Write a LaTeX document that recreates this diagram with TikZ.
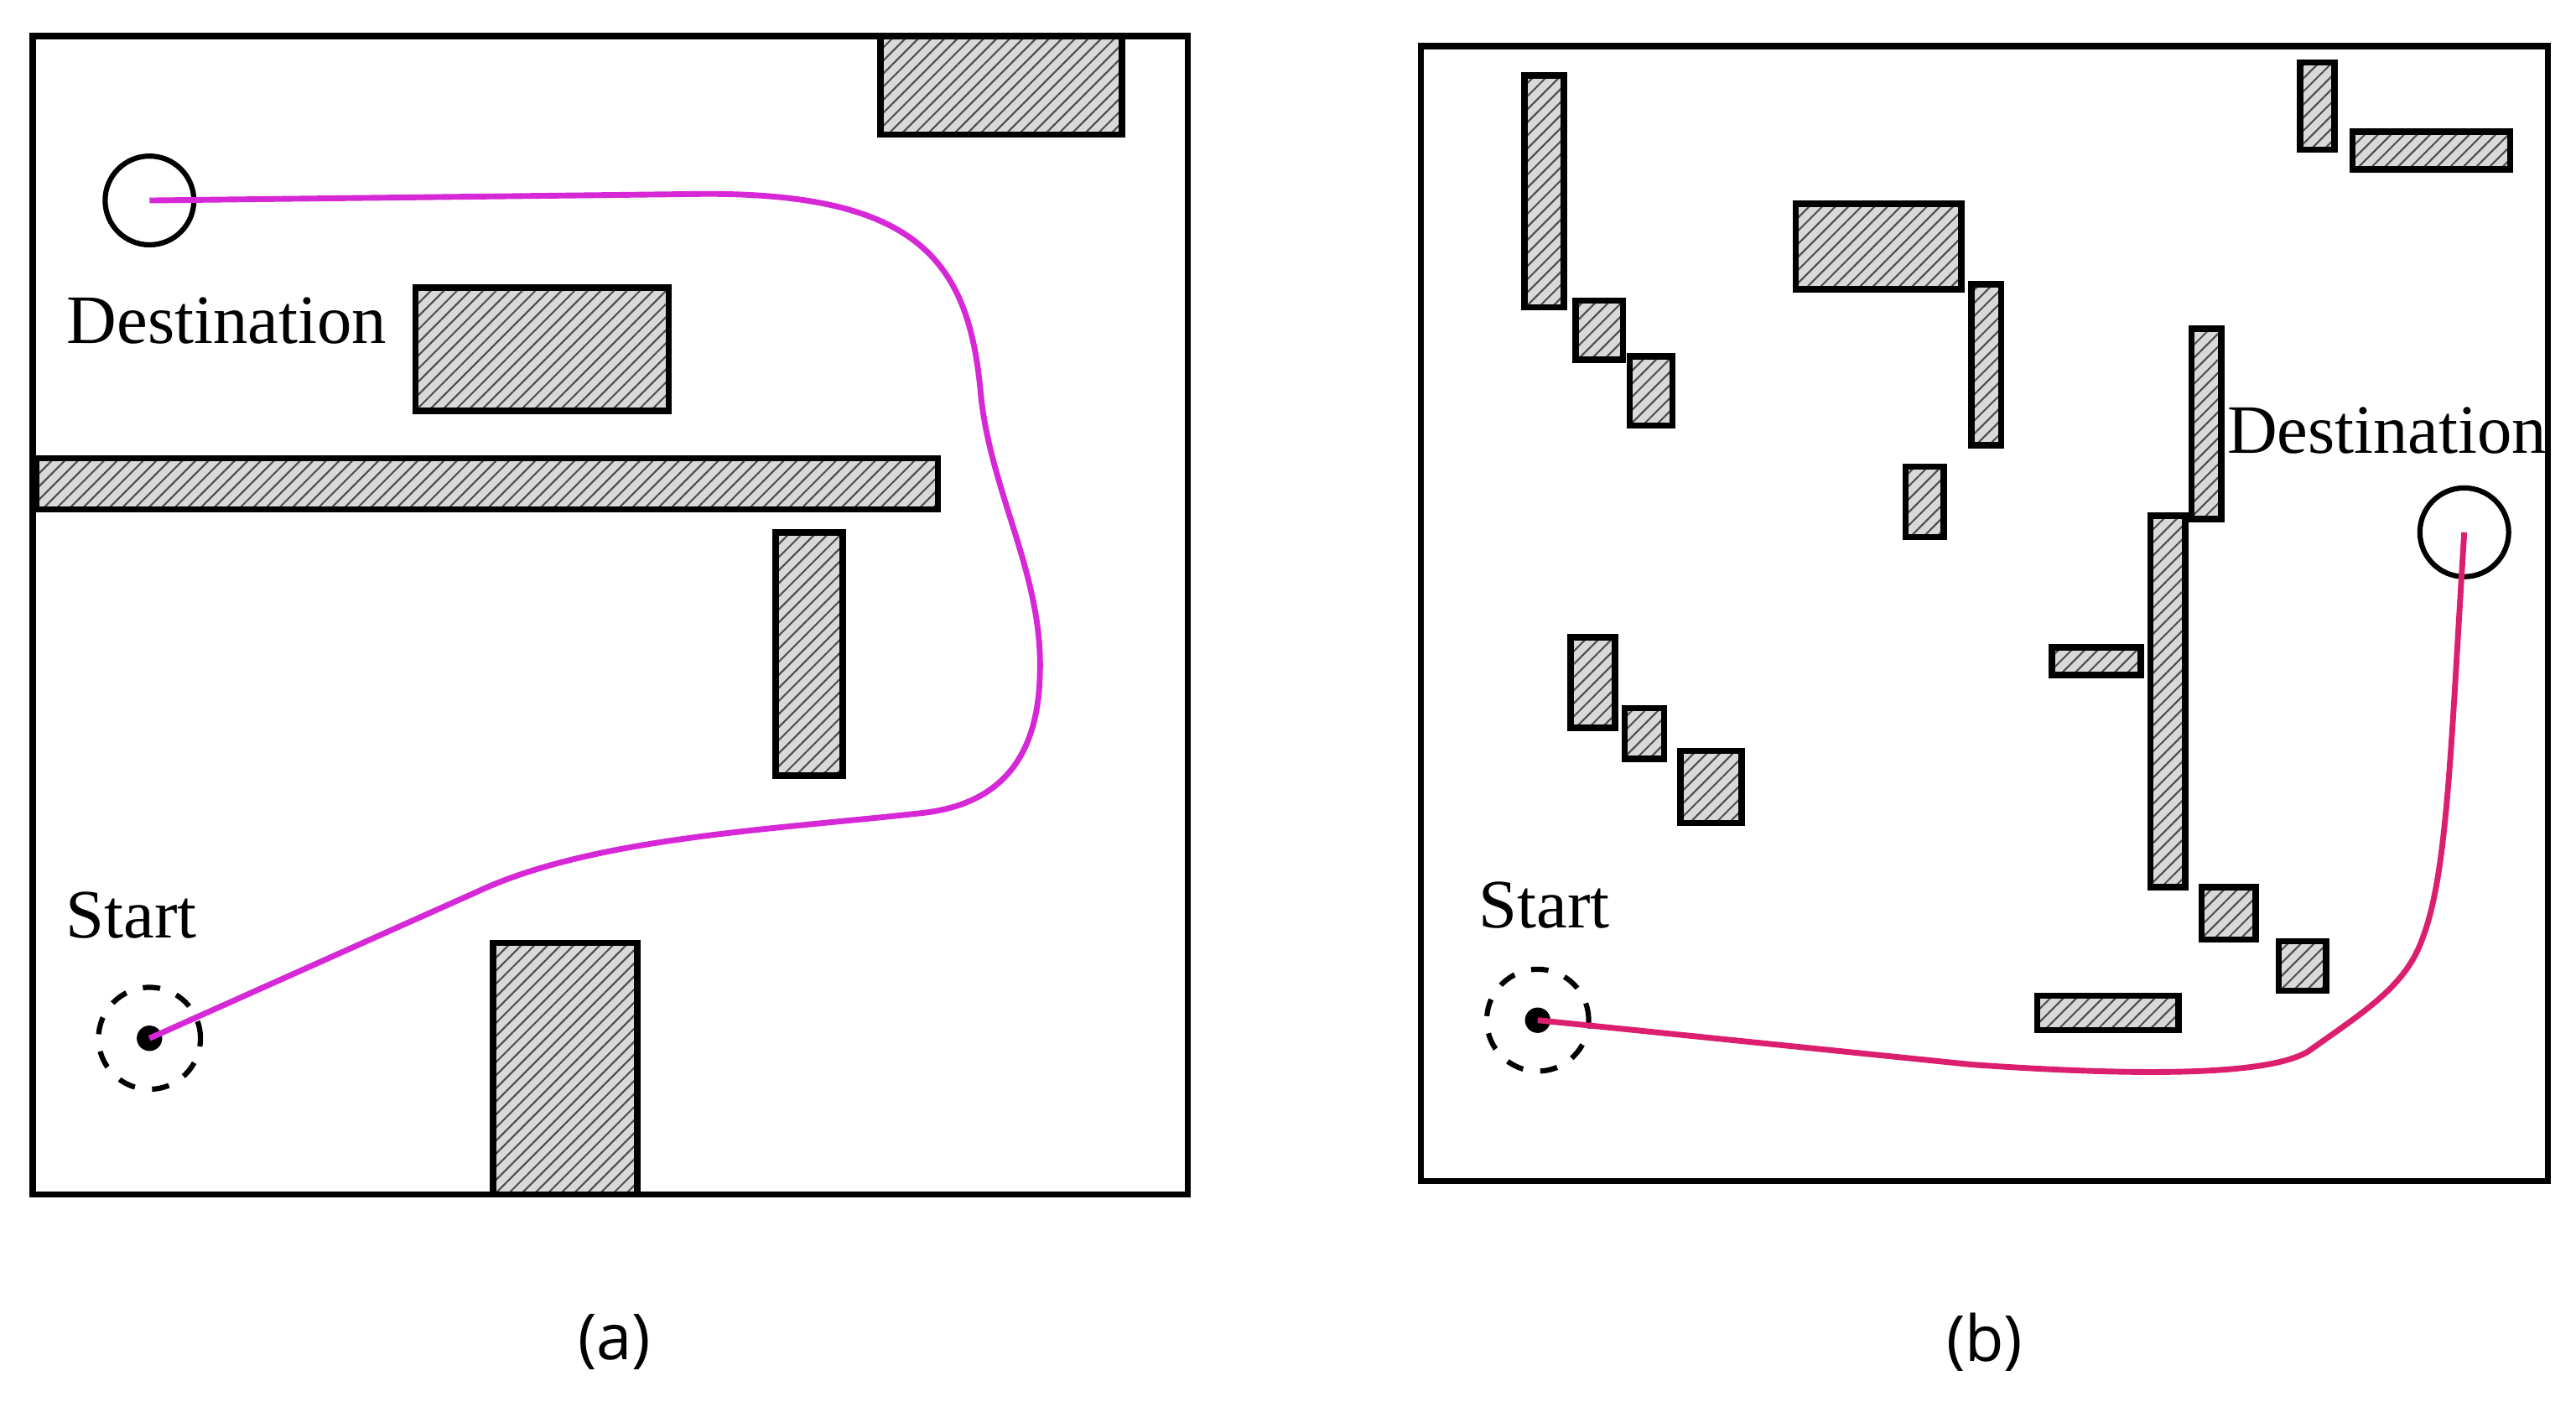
\documentclass[tikz,border=0pt]{standalone}
\usepackage{fontspec}
\setmainfont{Liberation Serif}
\newfontfamily\capfont{Open Sans}
\usetikzlibrary{patterns.meta}
\definecolor{pa}{RGB}{214,40,214}
\definecolor{pb}{RGB}{220,30,110}
\begin{document}
\begin{tikzpicture}[x=0.01cm,y=-0.01cm,
  obs/.style={draw=black,line width=1.1pt,preaction={fill=gray!30},pattern={Lines[angle=45,distance=1.6pt,line width=0.3pt]},pattern color=black!70},
  frame/.style={draw=black,line width=1.1pt},
  goal/.style={circle,draw=black,line width=0.9pt,minimum size=0.54cm,inner sep=0pt},
  strt/.style={circle,draw=black,line width=0.9pt,dashed,minimum size=0.62cm,inner sep=0pt},
  lab/.style={font=\fontsize{12}{14}\selectfont,inner sep=0pt},
  captxt/.style={font=\capfont\fontsize{11}{13}\selectfont,inner sep=0pt}]
\useasboundingbox (0,0) rectangle (1568,853);
% panel a
\draw[frame] (20,22) rectangle (723,727);
\foreach \a/\b in {{(536,22)}/{(683,82)},{(253,175)}/{(407,250)},{(22,279)}/{(571,310)},{(472,324)}/{(513,472)},{(300,574)}/{(388,727)}}
  \draw[obs] \a rectangle \b;
\node[goal] (da) at (91,122) {};
\node[strt] (sa) at (91,632) {};
\fill (sa.center) circle (2.2pt);
\node[lab] (dla) at (138,195) {Destination};
\node[lab] (sla) at (80,557) {Start};
\draw[pa,line width=1pt] (da.center) -- (430,118) .. controls (560,118) and (590,160) .. (597,240)
  .. controls (603,300) and (635,350) .. (633,410) .. controls (632,460) and (610,490) .. (560,495)
  .. controls (470,505) and (360,510) .. (290,543) -- (sa.center);
\node[captxt] (ca) at (374,817) {(a)};
% panel b
\draw[frame] (865,28) rectangle (1551,719);
\foreach \a/\b in {{(928,46)}/{(952,187)},{(959,183)}/{(988,219)},{(992,217)}/{(1018,259)},{(1093,124)}/{(1194,176)},{(1200,173)}/{(1218,271)},{(1160,284)}/{(1183,327)},{(1334,200)}/{(1352,316)},{(1400,38)}/{(1421,91)},{(1432,80)}/{(1528,103)},{(1309,314)}/{(1330,540)},{(1249,394)}/{(1303,411)},{(956,388)}/{(983,443)},{(989,431)}/{(1013,462)},{(1023,457)}/{(1060,501)},{(1340,540)}/{(1373,572)},{(1387,573)}/{(1416,603)},{(1240,606)}/{(1326,627)}}
  \draw[obs] \a rectangle \b;
\node[goal] (db) at (1500,324) {};
\node[strt] (sb) at (936,621) {};
\fill (sb.center) circle (2.2pt);
\node[lab] (dlb) at (1453,262) {Destination};
\node[lab] (slb) at (940,551) {Start};
\draw[pb,line width=1pt] (sb.center) -- (1200,648) .. controls (1300,655) and (1380,655) .. (1405,640)
  .. controls (1440,615) and (1465,600) .. (1475,570) .. controls (1490,530) and (1492,450) .. (db.center);
\node[captxt] (cb) at (1208,817) {(b)};
\end{tikzpicture}
\end{document}
